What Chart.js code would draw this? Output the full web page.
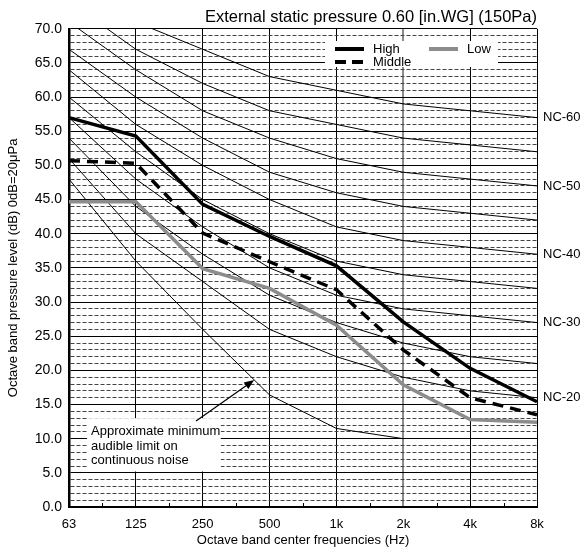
<!DOCTYPE html>
<html>
<head>
<meta charset="utf-8">
<script src="https://cdn.jsdelivr.net/npm/chart.js@4.4.0/dist/chart.umd.min.js"></script>
<style>
html, body { margin: 0; padding: 0; background: #fff; }
</style>
</head>
<body>
<canvas id="chart" width="586" height="550"></canvas>
<script>
// ===== Data =====
const bands = ['63', '125', '250', '500', '1k', '2k', '4k', '8k'];
const high   = [57.0, 54.3, 44.3, 39.6, 35.3, 27.1, 20.3, 15.4];
const middle = [50.7, 50.3, 40.1, 35.9, 31.8, 23.0, 16.0, 13.5];
const low    = [44.7, 44.7, 34.9, 32.0, 26.6, 17.9, 12.8, 12.4];

// NC reference curves
const nc20 = [51, 40, 33, 26, 22, 19, 17, 16];
const nc25 = [54, 44, 37, 31, 27, 24, 22, 21];
const nc30 = [57, 48, 41, 35, 31, 29, 28, 27];
const nc35 = [60, 52, 45, 40, 36, 34, 33, 32];
const nc40 = [64, 56, 50, 45, 41, 39, 38, 37];
const nc45 = [67, 60, 54, 49, 46, 44, 43, 42];
const nc50 = [71, 64, 58, 54, 51, 49, 48, 47];
const nc55 = [74, 67, 62, 58, 56, 54, 53, 52];
const nc60 = [77, 71, 67, 63, 61, 59, 58, 57];
const audibleLimit = [48, 36, 26, 16.4, 11.5, 10, null, null];

const ncLabelNames = ['NC-60', 'NC-50', 'NC-40', 'NC-30', 'NC-20'];
const ncLabelCurves = [nc60, nc50, nc40, nc30, nc20];

const yMin = 0, yMax = 70, yStep = 1, yMajor = 5;

const titleText = 'External static pressure 0.60 [in.WG] (150Pa)';
const noteLines = ['Approximate minimum', 'audible limit on', 'continuous noise'];

const FONT = 'Arial, "Liberation Sans", sans-serif';

// ===== Helpers =====
function thinLine(data) {
    return { data: data, borderColor: '#000', borderWidth: 1, pointRadius: 0, fill: false, tension: 0 };
}

// ===== Plugins =====
const noteBoxPlugin = {
    id: 'noteBox',
    beforeDatasetsDraw(chart) {
        const { ctx, scales: { x, y } } = chart;
        ctx.save();
        ctx.fillStyle = '#fff';
        const l = x.getPixelForValue(0.27), r = x.getPixelForValue(2.27);
        const t = y.getPixelForValue(13.0), b = y.getPixelForValue(5.2);
        ctx.fillRect(l, t, r - l, b - t);
        ctx.restore();
    }
};

const decorPlugin = {
    id: 'decor',
    afterDraw(chart) {
        const { ctx, chartArea, scales: { x, y } } = chart;
        ctx.save();

        // minor ticks between bands
        ctx.strokeStyle = '#000';
        ctx.lineWidth = 1;
        for (let i = 0; i < bands.length - 1; i++) {
            const px = Math.round(x.getPixelForValue(i + 0.5)) + 0.5;
            ctx.beginPath();
            ctx.moveTo(px, chartArea.bottom);
            ctx.lineTo(px, chartArea.bottom - 4);
            ctx.stroke();
        }

        // NC labels at right
        ctx.fillStyle = '#000';
        ctx.font = '13px ' + FONT;
        ctx.textAlign = 'left';
        ctx.textBaseline = 'middle';
        ncLabelCurves.forEach((c, i) => {
            ctx.fillText(ncLabelNames[i], chartArea.right + 6, y.getPixelForValue(c[c.length - 1]));
        });

        // legend box
        const lx = 325, ly = 41, lw = 173, lh = 26;
        ctx.fillStyle = '#fff';
        ctx.fillRect(lx, ly, lw, lh);
        const items = [
            { t: 'High', c: '#000', d: [], x: 335, y: 49 },
            { t: 'Low', c: '#8c8c8c', d: [], x: 429, y: 49 },
            { t: 'Middle', c: '#000', d: [11, 6], x: 335, y: 62 }
        ];
        items.forEach(it => {
            ctx.strokeStyle = it.c;
            ctx.lineWidth = 4;
            ctx.setLineDash(it.d);
            ctx.beginPath();
            ctx.moveTo(it.x, it.y);
            ctx.lineTo(it.x + 29, it.y);
            ctx.stroke();
            ctx.setLineDash([]);
            ctx.fillStyle = '#000';
            ctx.fillText(it.t, it.x + 38, it.y);
        });

        // annotation text
        const tx = x.getPixelForValue(0.33);
        const ty = y.getPixelForValue(11.0);
        noteLines.forEach((s, i) => ctx.fillText(s, tx, ty + i * 14.5));

        // arrow to the audible limit curve
        const ax0 = x.getPixelForValue(1.9), ay0 = y.getPixelForValue(12.6);
        const ax1 = x.getPixelForValue(2.77), ay1 = y.getPixelForValue(18.6);
        const ang = Math.atan2(ay1 - ay0, ax1 - ax0);
        ctx.strokeStyle = '#000';
        ctx.lineWidth = 1.2;
        ctx.beginPath();
        ctx.moveTo(ax0, ay0);
        ctx.lineTo(ax1 - 6 * Math.cos(ang), ay1 - 6 * Math.sin(ang));
        ctx.stroke();
        ctx.fillStyle = '#000';
        ctx.beginPath();
        ctx.moveTo(ax1, ay1);
        ctx.lineTo(ax1 - 10 * Math.cos(ang) + 4 * Math.sin(ang), ay1 - 10 * Math.sin(ang) - 4 * Math.cos(ang));
        ctx.lineTo(ax1 - 10 * Math.cos(ang) - 4 * Math.sin(ang), ay1 - 10 * Math.sin(ang) + 4 * Math.cos(ang));
        ctx.closePath();
        ctx.fill();

        ctx.restore();
    }
};

// ===== Chart =====
const ctx = document.getElementById('chart').getContext('2d');
new Chart(ctx, {
    type: 'line',
    data: {
        labels: bands,
        datasets: [
            { label: 'High', data: high, borderColor: '#000', borderWidth: 3.5, pointRadius: 0, tension: 0 },
            { label: 'Middle', data: middle, borderColor: '#000', borderWidth: 3.5, borderDash: [11, 7], pointRadius: 0, tension: 0 },
            { label: 'Low', data: low, borderColor: '#8c8c8c', borderWidth: 3.5, pointRadius: 0, tension: 0 },
            thinLine(nc20), thinLine(nc25), thinLine(nc30), thinLine(nc35), thinLine(nc40),
            thinLine(nc45), thinLine(nc50), thinLine(nc55), thinLine(nc60),
            thinLine(audibleLimit)
        ]
    },
    options: {
        responsive: false,
        animation: false,
        devicePixelRatio: 1,
        layout: { padding: { left: 0, right: 49, top: 0, bottom: 0 } },
        plugins: {
            legend: { display: false },
            tooltip: { enabled: false },
            title: {
                display: true,
                text: titleText,
                align: 'end',
                color: '#000',
                font: { family: FONT, size: 16.5, weight: 'normal', lineHeight: 1.2 },
                padding: { top: 8, bottom: 1 }
            }
        },
        scales: {
            x: {
                offset: false,
                afterFit: s => { s.height = 43; },
                grid: {
                    drawTicks: false,
                    color: c => c.index === 5 ? '#8c8c8c' : '#000',
                    lineWidth: c => c.index === 5 ? 2 : 1
                },
                border: { display: true, color: '#000', width: 2 },
                ticks: { color: '#000', padding: 10, font: { family: FONT, size: 13 }, maxRotation: 0, autoSkip: false },
                title: {
                    display: true,
                    text: 'Octave band center frequencies (Hz)',
                    color: '#000',
                    font: { family: FONT, size: 13 },
                    padding: { top: 0, bottom: 2 }
                }
            },
            y: {
                min: yMin,
                max: yMax,
                afterFit: s => { s.width = 69; },
                grid: {
                    drawTicks: false,
                    color: c => (c.tick && c.tick.value % yMajor === 0) ? '#000' : '#444',
                    lineWidth: 1
                },
                border: {
                    display: true,
                    color: '#000',
                    width: 2.5,
                    dash: c => (c.tick && c.tick.value % yMajor !== 0) ? [4, 2] : []
                },
                ticks: {
                    stepSize: yStep,
                    autoSkip: false,
                    color: '#000',
                    padding: 7,
                    font: { family: FONT, size: 14 },
                    callback: v => v % yMajor === 0 ? v.toFixed(1) : ''
                },
                title: {
                    display: true,
                    text: 'Octave band pressure level (dB) 0dB=20μPa',
                    color: '#000',
                    font: { family: FONT, size: 13 },
                    padding: { top: 6, bottom: 0 }
                }
            }
        }
    },
    plugins: [noteBoxPlugin, decorPlugin]
});
</script>
</body>
</html>
